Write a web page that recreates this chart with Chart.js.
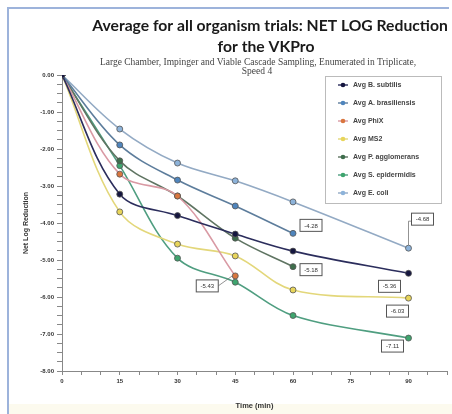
<!DOCTYPE html>
<html>
<head>
<meta charset="utf-8">
<script src="https://cdn.jsdelivr.net/npm/chart.js@4.4.1/dist/chart.umd.min.js"></script>
<style>
  html, body { margin: 0; padding: 0; background: #fff; }
  #wrap { position: relative; width: 452px; height: 414px; }
</style>
</head>
<body>
<div id="wrap"><canvas id="nlr-chart" width="452" height="414"></canvas></div>
<script>
// --- DATOS ---
const times = [0, 15, 30, 45, 60, 90];
const xTickLabels = [0, 15, 30, 45, 60, 75, 90];
const yTickLabels = [0, -1, -2, -3, -4, -5, -6, -7, -8];

const seriesNames = [
    'Avg B. subtilis', 'Avg A. brasiliensis', 'Avg PhiX', 'Avg MS2',
    'Avg P. agglomerans', 'Avg S. epidermidis', 'Avg E. coli'
];
const bSubtilis = [0, -3.22, -3.80, -4.30, -4.76, -5.36];
const aBrasiliensis = [0, -1.89, -2.84, -3.54, -4.28, null];
const phiX = [0, -2.68, -3.27, -5.43, null, null];
const ms2 = [0, -3.70, -4.57, -4.89, -5.81, -6.03];
const pAgglomerans = [0, -2.32, -3.27, -4.41, -5.18, null];
const sEpidermidis = [0, -2.45, -4.95, -5.60, -6.50, -7.11];
const eColi = [0, -1.46, -2.38, -2.86, -3.43, -4.68];

// etiquetas de valor: [serie, indice de punto, texto]
const valueLabels = [
    [1, 4, '-4.28'], [4, 4, '-5.18'], [6, 5, '-4.68'], [0, 5, '-5.36'],
    [3, 5, '-6.03'], [5, 5, '-7.11'], [2, 3, '-5.43']
];

// --- ESTILOS ---
const lineColors = ['#2b2d5c', '#5d7d9c', '#d99aa4', '#e3d77a', '#5f7462', '#4f9e80', '#93aac4'];
const markerColors = ['#15163f', '#4f85bd', '#d9763f', '#e8d55a', '#3e6e4c', '#3ea56e', '#8db3da'];
const labelOffsets = [[18, -8], [18, 3], [14, -29], [-19, 13], [-11, 13], [-16, 8], [-28, 10]];
const leaderLabels = ['-4.68', '-5.43'];

const allSeries = [bSubtilis, aBrasiliensis, phiX, ms2, pAgglomerans, sEpidermidis, eColi];

const datasets = allSeries.map((vals, i) => ({
    label: seriesNames[i],
    data: times.map((t, j) => ({ x: t, y: vals[j] })).filter(p => p.y !== null),
    borderColor: lineColors[i],
    backgroundColor: markerColors[i],
    pointBackgroundColor: markerColors[i],
    pointBorderColor: '#555',
    pointBorderWidth: 0.8,
    pointRadius: 3,
    borderWidth: 1.6,
    tension: 0.35,
    fill: false
}));

// --- PLUGIN: marco, titulos, leyenda y etiquetas ---
const decorPlugin = {
    id: 'decor',
    beforeDraw(chart) {
        const ctx = chart.ctx;
        ctx.save();
        ctx.fillStyle = '#fcfaee';
        ctx.fillRect(9, 404, 443, 10);
        ctx.strokeStyle = '#9db3db';
        ctx.lineWidth = 2;
        ctx.beginPath();
        ctx.moveTo(8, 414); ctx.lineTo(8, 8); ctx.lineTo(449, 8);
        ctx.stroke();
        ctx.restore();
    },
    afterDraw(chart) {
        const ctx = chart.ctx;
        ctx.save();
        ctx.textAlign = 'center';
        ctx.textBaseline = 'middle';
        ctx.fillStyle = '#1a1a1a';
        ctx.font = 'bold 15.7px Lato';
        ctx.fillText('Average for all organism trials: NET LOG Reduction', 270, 26);
        ctx.fillText('for the VKPro', 266, 47);
        ctx.fillStyle = '#444';
        ctx.font = '9.5px "Liberation Serif"';
        ctx.fillText('Large Chamber, Impinger and Viable Cascade Sampling, Enumerated in Triplicate,', 258, 62);
        ctx.fillText('Speed 4', 257, 71);

        // leyenda
        ctx.fillStyle = '#fff';
        ctx.fillRect(325, 76, 116, 127);
        ctx.strokeStyle = '#bbb';
        ctx.lineWidth = 1;
        ctx.strokeRect(325.5, 76.5, 116, 127);
        ctx.textAlign = 'left';
        ctx.font = 'bold 7px "Liberation Sans"';
        seriesNames.forEach((name, i) => {
            const y = 85 + i * 18;
            ctx.strokeStyle = lineColors[i];
            ctx.lineWidth = 1.4;
            ctx.beginPath(); ctx.moveTo(338, y); ctx.lineTo(348, y); ctx.stroke();
            ctx.fillStyle = markerColors[i];
            ctx.beginPath(); ctx.arc(343, y, 2.3, 0, Math.PI * 2); ctx.fill();
            ctx.fillStyle = '#444';
            ctx.fillText(name, 353, y);
        });

        // etiquetas de valor
        ctx.textAlign = 'center';
        ctx.font = '6px "Liberation Sans"';
        valueLabels.forEach(([ds, idx, text], k) => {
            const pt = chart.getDatasetMeta(ds).data[idx];
            if (!pt) return;
            const cx = pt.x + labelOffsets[k][0];
            const cy = pt.y + labelOffsets[k][1];
            if (leaderLabels.includes(text)) {
                ctx.strokeStyle = '#777';
                ctx.lineWidth = 0.8;
                ctx.beginPath();
                if (cy < pt.y - 15) { ctx.moveTo(cx - 11, cy + 2); ctx.lineTo(pt.x, cy + 2); ctx.lineTo(pt.x, pt.y - 3); }
                else { ctx.moveTo(cx + 11, cy); ctx.lineTo(pt.x - 3, pt.y); }
                ctx.stroke();
            }
            ctx.fillStyle = '#fff';
            ctx.fillRect(cx - 11, cy - 6, 22, 12);
            ctx.strokeStyle = '#555';
            ctx.lineWidth = 1;
            ctx.strokeRect(cx - 11, cy - 6, 22, 12);
            ctx.fillStyle = '#333';
            ctx.fillText(text, cx, cy + 0.5);
        });
        ctx.restore();
    }
};

// --- GRAFICO ---
const ctx = document.getElementById('nlr-chart').getContext('2d');
new Chart(ctx, {
    type: 'line',
    data: { datasets },
    options: {
        responsive: false,
        animation: false,
        layout: { padding: { left: 8, top: 75, right: 5, bottom: 0 } },
        plugins: { legend: { display: false }, tooltip: { enabled: false } },
        scales: {
            x: {
                type: 'linear', min: 0, max: 100,
                afterBuildTicks: axis => {
                    axis.ticks = [];
                    for (let v = 0; v <= 100; v += 5) axis.ticks.push({ value: v });
                },
                afterFit: s => { s.height = 43; },
                ticks: {
                    autoSkip: false, maxRotation: 0, padding: 3,
                    color: '#333', font: { size: 6, weight: 'bold', family: 'Liberation Sans' },
                    callback: v => xTickLabels.includes(v) ? String(v) : ''
                },
                grid: { drawOnChartArea: false, tickLength: 4, color: '#888' },
                border: { color: '#888', dash: [2, 1.5] },
                title: {
                    display: true, text: 'Time (min)', color: '#333',
                    font: { size: 7.5, weight: 'bold', family: 'Liberation Sans' },
                    padding: { top: 7 }
                }
            },
            y: {
                min: -8, max: 0,
                afterBuildTicks: axis => {
                    axis.ticks = [];
                    for (let v = -8; v <= 0.001; v += 0.25) axis.ticks.push({ value: Math.round(v * 100) / 100 });
                },
                afterFit: s => { s.width = 54; },
                ticks: {
                    autoSkip: false, padding: 3,
                    color: '#333', font: { size: 6, weight: 'bold', family: 'Liberation Sans' },
                    callback: v => yTickLabels.includes(v) ? v.toFixed(2) : ''
                },
                grid: { drawOnChartArea: false, tickLength: 5, color: '#888' },
                border: { color: '#888', dash: [2, 1.5] },
                title: {
                    display: true, text: 'Net Log Reduction', color: '#333',
                    font: { size: 7, weight: 'bold', family: 'Liberation Sans' },
                    padding: { top: 14 }
                }
            }
        }
    },
    plugins: [decorPlugin]
});
</script>
</body>
</html>
